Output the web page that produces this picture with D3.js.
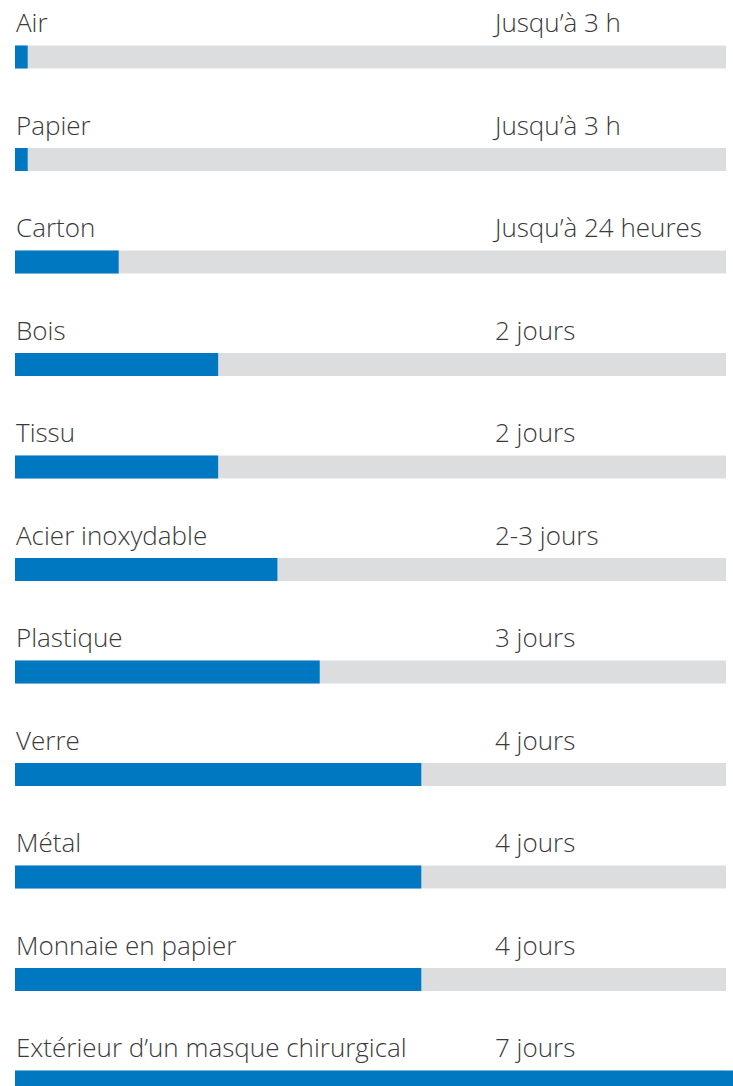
<!DOCTYPE html>
<html>
<head>
<meta charset="utf-8">
<script src="https://cdn.jsdelivr.net/npm/d3@7"></script>
<style>
  body { margin: 0; background: #fff; }
  text { font-family: 'Open Sans', sans-serif; font-weight: 300; fill: #3a3a3a; }
</style>
</head>
<body>
<div id="graf"></div>
<script>
// Données : durée de survie (en heures)
surfaces = ['Air', 'Papier', 'Carton', 'Bois', 'Tissu', 'Acier inoxydable',
            'Plastique', 'Verre', 'Métal', 'Monnaie en papier',
            'Extérieur d’un masque chirurgical']
heures = [3, 3, 24.5, 48, 48, 62, 72, 96, 96, 96, 170]
etiquettes = ['Jusqu’à 3 h', 'Jusqu’à 3 h', 'Jusqu’à 24 heures', '2 jours', '2 jours',
              '2-3 jours', '3 jours', '4 jours', '4 jours', '4 jours', '7 jours']

ancho_total = 733
alto_total = 1086

margins = { top: 45.5, left: 15, right: 7 }
ancho = ancho_total - margins.left - margins.right
paso = 102.5
alto_barra = 23

svg = d3.select('#graf').append('svg')
        .attr('width', ancho_total)
        .attr('height', alto_total)

g = svg.append('g')
       .attr('transform', `translate(${ margins.left }, ${ margins.top })`)

x = d3.scaleLinear().domain([0, 168]).range([0, ancho])
y = d3.scaleBand()
      .domain(surfaces)
      .range([0, paso * surfaces.length])
      .paddingInner(0)

datos = surfaces.map((s, i) => ({ surface: s, h: heures[i], txt: etiquettes[i] }))

filas = g.selectAll('g.fila')
         .data(datos)
         .enter()
         .append('g')
         .attr('class', 'fila')
         .attr('transform', d => `translate(0, ${ y(d.surface) })`)

// fond gris
filas.append('rect')
     .attr('x', 0)
     .attr('y', 0)
     .attr('width', x(168))
     .attr('height', alto_barra)
     .attr('fill', '#dcdddf')

// barre bleue
filas.append('rect')
     .attr('x', 0)
     .attr('y', 0)
     .attr('width', d => x(d.h))
     .attr('height', alto_barra)
     .attr('fill', '#0078c1')

filas.append('text')
     .attr('x', 1)
     .attr('y', -13.5)
     .attr('font-size', '26px')
     .text(d => d.surface)

filas.append('text')
     .attr('x', 480)
     .attr('y', -13.5)
     .attr('font-size', '26px')
     .text(d => d.txt)
</script>
</body>
</html>
